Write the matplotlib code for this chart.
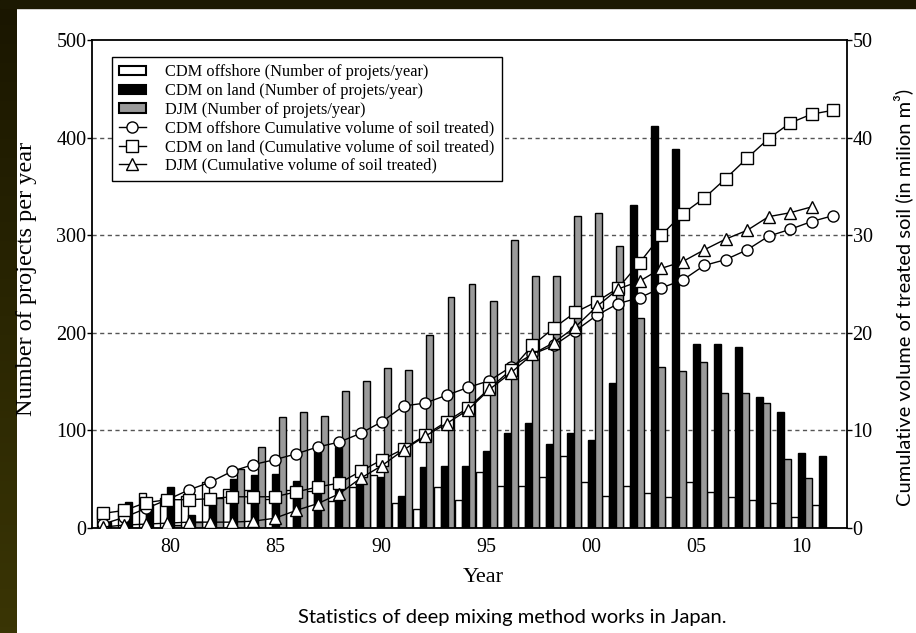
import numpy as np
import matplotlib.pyplot as plt
from matplotlib.patches import Patch, Rectangle
from matplotlib.lines import Line2D
from matplotlib.colors import LinearSegmentedColormap

# Yearly number of projects and cumulative treated volume (million m3)
years = np.arange(1977, 2012)
offshore_n = [19, 20, 36, 31, 33, 47, 40, 39, 30, 39, 38, 28, 42, 54, 26, 19, 42, 29,
              57, 43, 43, 52, 74, 47, 33, 43, 36, 32, 47, 37, 32, 29, 26, 11, 24]
land_n = [6, 27, 25, 42, 13, 28, 50, 54, 55, 48, 79, 83, 46, 52, 33, 63, 64, 64,
          79, 97, 108, 86, 97, 90, 149, 331, 412, 388, 189, 189, 185, 134, 119, 77, 74]
djm_n = [0, 0, 0, 3, 6, 31, 60, 83, 114, 119, 115, 140, 151, 164, 162, 198, 237, 250,
         233, 295, 258, 258, 320, 323, 289, 215, 165, 161, 170, 138, 138, 128, 71, 51, 0]

offshore_cum = [0.4, 1.1, 2.0, 2.9, 3.9, 4.7, 5.8, 6.5, 7.0, 7.6, 8.3, 8.8, 9.7, 10.9,
                12.5, 12.8, 13.6, 14.4, 15.1, 16.5, 17.8, 18.7, 20.2, 21.8, 23.0, 23.6,
                24.6, 25.4, 26.9, 27.5, 28.5, 29.9, 30.6, 31.4, 32.0]
land_cum = [1.5, 1.8, 2.6, 2.9, 2.9, 3.0, 3.2, 3.2, 3.2, 3.7, 4.2, 4.6, 5.8, 7.0,
            8.1, 9.5, 10.9, 12.3, 14.3, 16.2, 18.7, 20.5, 22.1, 23.2, 24.6, 27.2,
            30.0, 32.2, 33.8, 35.8, 37.9, 39.9, 41.5, 42.4, 42.8]
djm_years = np.arange(1977, 2011)
djm_cum = [0.1, 0.3, 0.4, 0.5, 0.6, 0.6, 0.6, 0.7, 1.0, 1.8, 2.5, 3.5, 5.1, 6.4,
           8.0, 9.4, 10.7, 12.1, 14.2, 15.9, 17.8, 19.0, 20.6, 22.7, 24.5, 25.3,
           26.6, 27.3, 28.5, 29.6, 30.5, 31.9, 32.3, 32.9]

tick_years = [1980, 1985, 1990, 1995, 2000, 2005, 2010]
tick_labels = ['80', '85', '90', '95', '00', '05', '10']

serif = 'Liberation Serif'
sans = 'Lato'
grey = '#9a9a9a'

fig = plt.figure(figsize=(9.16, 6.33), dpi=100)

# dark frame along the left and top edges
strip = fig.add_axes([0, 0, 17 / 916, 1])
cmap = LinearSegmentedColormap.from_list('olive', ['#1a1600', '#2a2602', '#3a3505'])
strip.imshow(np.linspace(0, 1, 100).reshape(-1, 1), aspect='auto', cmap=cmap)
strip.axis('off')
fig.add_artist(Rectangle((0, 1 - 8 / 633), 1, 8 / 633, transform=fig.transFigure,
                         color='#1c1902', zorder=5))

rect = [92 / 916, 1 - 528 / 633, 755 / 916, 488 / 633]
ax = fig.add_axes(rect)
w = 0.33
ax.bar(years - w, offshore_n, w, color='white', edgecolor='black', lw=1, zorder=2)
ax.bar(years, land_n, w, color='black', edgecolor='black', lw=1, zorder=2)
ax.bar(years + w, djm_n, w, color=grey, edgecolor='black', lw=1, zorder=2)

ax.set_xlim(1976.27, 2012.15)
ax.set_ylim(0, 500)
ax.set_xticks(tick_years)
ax.set_xticklabels(tick_labels, fontfamily=serif, fontsize=14.5)
ax.set_yticks([0, 100, 200, 300, 400, 500])
ax.set_yticklabels(['0', '100', '200', '300', '400', '500'], fontfamily=serif, fontsize=14.5)
ax.tick_params(axis='x', length=0, pad=7)
ax.tick_params(axis='y', length=3.5, width=1, pad=0.5)
for v in [100, 200, 300, 400]:
    ax.axhline(v, color='#555555', lw=1, ls=(0, (3, 2.5)), zorder=1)
for s in ax.spines.values():
    s.set_linewidth(1.3)
ax.set_ylabel('Number of projects per year', fontfamily=serif, fontsize=17.5)
ax.yaxis.set_label_coords(-0.073, 0.51)
ax.set_xlabel('Year', fontfamily=serif, fontsize=16)
ax.xaxis.set_label_coords(0.518, -0.082)

# cumulative curves on their own overlay axes
axl = fig.add_axes(rect)
axl.patch.set_visible(False)
for s in axl.spines.values():
    s.set_visible(False)
mk = dict(color='black', lw=1, mfc='white', mec='black', mew=1, ms=8)
axl.plot(years, offshore_cum, marker='o', **mk)
axl.plot(years, land_cum, marker='s', **mk)
axl.plot(djm_years, djm_cum, marker='^', **mk)
axl.set_xlim(1976.49, 2011.65)
axl.set_ylim(0, 50)
axl.set_xticks([])
axl.yaxis.tick_right()
axl.yaxis.set_label_position('right')
axl.set_yticks([0, 10, 20, 30, 40, 50])
axl.set_yticklabels(['0', '10', '20', '30', '40', '50'], fontfamily=serif, fontsize=14.5)
axl.tick_params(axis='y', length=3.5, width=1, pad=0.5)
axl.set_ylabel('Cumulative volume of treated soil (in milion m³)', fontfamily=sans, fontsize=14.5)
axl.yaxis.set_label_coords(1.061, 0.473)

handles = [
    Patch(facecolor='white', edgecolor='black', lw=1.5),
    Patch(facecolor='black', edgecolor='black', lw=1.5),
    Patch(facecolor=grey, edgecolor='black', lw=1.5),
    Line2D([], [], marker='o', **mk),
    Line2D([], [], marker='s', **mk),
    Line2D([], [], marker='^', **mk),
]
labels = [
    'CDM offshore (Number of projets/year)',
    'CDM on land (Number of projets/year)',
    'DJM (Number of projets/year)',
    'CDM offshore Cumulative volume of soil treated)',
    'CDM on land (Cumulative volume of soil treated)',
    'DJM (Cumulative volume of soil treated)',
]
leg = axl.legend(handles, labels, loc='upper left', bbox_to_anchor=(0.0265, 0.965),
                 borderaxespad=0, prop={'family': serif, 'size': 11.8}, fancybox=False,
                 framealpha=1, edgecolor='black', labelspacing=0.16, handlelength=1.6,
                 handleheight=0.5, handletextpad=1.2, borderpad=0.45)
leg.get_frame().set_linewidth(1)

fig.text(512 / 916, 1 - 617 / 633, 'Statistics of deep mixing method works in Japan.',
         fontfamily=sans, fontsize=14.5, ha='center', va='center')

fig.savefig('out.png', dpi=100, facecolor='white')
